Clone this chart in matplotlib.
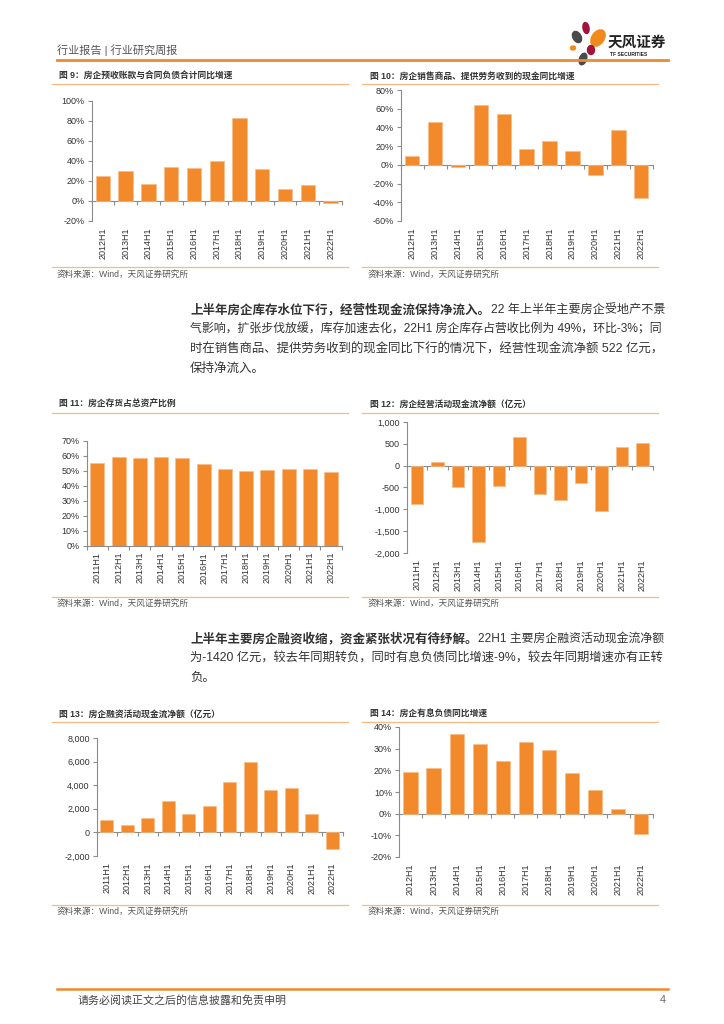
import matplotlib
matplotlib.use("Agg")
import matplotlib.pyplot as plt
from matplotlib.patches import Ellipse
from matplotlib.ticker import FuncFormatter, MultipleLocator

plt.rcParams['font.family'] = ['Liberation Sans', 'Noto Sans CJK SC', 'DejaVu Sans']

# page size in pixels
W, H = 724, 1024

# DATA
periods_11 = ['2012H1', '2013H1', '2014H1', '2015H1', '2016H1', '2017H1',
              '2018H1', '2019H1', '2020H1', '2021H1', '2022H1']
periods_12 = ['2011H1'] + periods_11

adv_growth = [25, 30, 17.5, 34, 33.5, 40, 83.5, 32.5, 12, 16, -1.5]        # 图9 %
cash_growth = [10, 46, -1.8, 63.5, 54.5, 17, 25, 15, -11.3, 37.7, -35.6]   # 图10 %
inv_ratio = [55.5, 59.3, 58.4, 59.1, 58.4, 54.8, 51.3, 49.9, 50.6, 51.0, 51.5, 49.3]  # 图11 %
op_cf = [-885, 92, -496, -1748, -458, 664, -649, -779, -397, -1038, 435, 522]        # 图12 亿元
fin_cf = [1050, 625, 1190, 2630, 1560, 2240, 4280, 5980, 3625, 3800, 1560, -1420]    # 图13 亿元
debt_growth = [19.2, 21.3, 36.9, 32.1, 24.3, 32.9, 29.4, 18.9, 11.1, 2.2, -9.3]      # 图14 %

titles = ['图 9：房企预收账款与合同负债合计同比增速',
          '图 10：房企销售商品、提供劳务收到的现金同比增速',
          '图 11：房企存货占总资产比例',
          '图 12：房企经营活动现金流净额（亿元）',
          '图 13：房企融资活动现金流净额（亿元）',
          '图 14：房企有息负债同比增速']
source = '资料来源：Wind，天风证券研究所'

para1_bold = '上半年房企库存水位下行，经营性现金流保持净流入。'
para1 = ['22 年上半年主要房企受地产不景',
         '气影响，扩张步伐放缓，库存加速去化，22H1 房企库存占营收比例为 49%，环比-3%；同',
         '时在销售商品、提供劳务收到的现金同比下行的情况下，经营性现金流净额 522 亿元，',
         '保持净流入。']
para2_bold = '上半年主要房企融资收缩，资金紧张状况有待纾解。'
para2 = ['22H1 主要房企融资活动现金流净额',
         '为-1420 亿元，较去年同期转负，同时有息负债同比增速-9%，较去年同期增速亦有正转',
         '负。']

# COLOURS
BAR = '#F28A2B'
BAR_EDGE = '#F8BE8A'
AXC = '#8C8C8C'
TXT = '#333333'
LINE_DARK = '#EE8A2F'
LINE_LIGHT = '#F6B983'


def fx(x):
    return x / W


def fy(y):
    return 1 - y / H


fig = plt.figure(figsize=(W / 100, H / 100), dpi=100)
renderer = fig.canvas.get_renderer()


def hline(x0, x1, y, color, lw):
    fig.add_artist(plt.Line2D([fx(x0), fx(x1)], [fy(y), fy(y)], color=color, lw=lw,
                              transform=fig.transFigure))


pct = lambda v, p: f'{v:.0f}%'
thou = lambda v, p: f'{v:,.0f}'


def bar_chart(box, cats, vals, ylim, step, fmt, width=0.63):
    x0, y0, x1, y1 = box
    ax = fig.add_axes([fx(x0), fy(y1), (x1 - x0) / W, (y1 - y0) / H])
    n = len(cats)
    ax.bar(range(n), vals, width, color=BAR, edgecolor=BAR_EDGE, linewidth=0.5, zorder=2)
    ax.set_xlim(-0.5, n - 0.5)
    ax.set_ylim(*ylim)
    ax.yaxis.set_major_locator(MultipleLocator(step))
    ax.yaxis.set_major_formatter(FuncFormatter(fmt))
    for s in ['top', 'right', 'bottom']:
        ax.spines[s].set_visible(False)
    ax.spines['left'].set_color(AXC)
    ax.spines['left'].set_linewidth(0.8)
    ax.tick_params(axis='y', direction='out', length=3, width=0.8, color=AXC,
                   labelsize=6.5, labelcolor=TXT, pad=2)
    ax.set_xticks(range(n))
    ax.set_xticklabels(cats, rotation=90, fontsize=6.5, color=TXT)
    ax.tick_params(axis='x', length=0, pad=4.5)
    # zero line with ticks between categories
    zero = (0 - ylim[0]) / (ylim[1] - ylim[0])
    sec = ax.secondary_xaxis(zero)
    sec.set_alignment('bottom')
    sec.set_xticks([i - 0.5 for i in range(n + 1)])
    sec.set_xticklabels([])
    sec.tick_params(direction='out', length=3, width=0.8, color=AXC)
    sec.spines['bottom'].set_color(AXC)
    sec.spines['bottom'].set_linewidth(0.8)
    return ax


def frame(x_text, x0, x1, y_title, y_under, y_src_line, y_src, title):
    fig.text(fx(x_text), fy(y_title), title, fontsize=6.3, fontweight='bold',
             color=TXT, va='center')
    hline(x0, x1, y_under, LINE_LIGHT, 0.9)
    hline(x0, x1, y_src_line, LINE_LIGHT, 0.9)
    fig.text(fx(x_text - 2), fy(y_src), source, fontsize=6.2, color='#555555', va='center')


# header
fig.text(fx(57), fy(50), '行业报告 | 行业研究周报', fontsize=8, color='#555555', va='center')
hline(57, 668, 60, LINE_DARK, 2)
# logo petals
petals = [((577, 37), 8, 12, 30, '#4A4A4A'), ((586, 28), 6, 11, 10, '#A3123A'),
          ((598, 38), 12, 18, -35, '#F08A1C'), ((573, 48), 5, 4, 0, '#F08A1C'),
          ((591, 50), 7, 9, 0, '#A3123A'), ((583, 59), 7, 12, -20, '#4A4A4A')]
for (cx, cy), w, h, ang, c in petals:
    fig.add_artist(Ellipse((cx / 100, (H - cy) / 100), w / 100, h / 100, angle=ang,
                           color=c, transform=fig.dpi_scale_trans))
fig.text(fx(608), fy(43), '天风证券', fontsize=10.5, fontweight='bold', color='#222222',
         va='center')
fig.text(fx(610), fy(55), 'TF SECURITIES', fontsize=3.6, fontweight='bold', color='#222222',
         va='center')

# row 1
frame(59, 52, 348, 76, 84, 267, 274, titles[0])
frame(370, 362, 658, 76, 84, 267, 274, titles[1])
bar_chart((91.5, 101, 342, 221), periods_11, adv_growth, (-20, 100), 20, pct)
bar_chart((400.7, 90, 652.7, 221), periods_11, cash_growth, (-60, 80), 20, pct)

RIGHT = 665


def fit_line(x_px, y_px, s, last=False, fs=9):
    t = fig.text(fx(x_px), fy(y_px), s, fontsize=fs, color=TXT, va='center')
    if not last:
        w = t.get_window_extent(renderer).width
        k = min(max((RIGHT - x_px) / w, 0.94), 1.06)
        t.set_fontsize(fs * k)
    return t


def paragraph(y_start, bold, lines, dy=19.7):
    t = fig.text(fx(190), fy(y_start), bold, fontsize=9, fontweight='bold', color=TXT,
                 va='center')
    bb = t.get_window_extent(renderer)
    fit_line(bb.x1 + 1, y_start, lines[0])
    for i, ln in enumerate(lines[1:], start=1):
        fit_line(190, y_start + i * dy, ln, last=(i == len(lines) - 1))


paragraph(310, para1_bold, para1)

# row 2
frame(59, 52, 348, 404, 412.7, 596.7, 603, titles[2])
frame(370, 362, 658, 404, 412.7, 596.7, 603, titles[3])
bar_chart((86.7, 441, 341.7, 545.7), periods_12, inv_ratio, (0, 70), 10, pct, width=0.66)
bar_chart((406.7, 422, 652.7, 553), periods_12, op_cf, (-2000, 1000), 500, thou, width=0.62)

paragraph(638.5, para2_bold, para2, dy=20)

# row 3
frame(59, 52, 348, 714, 721.7, 904.7, 911, titles[4])
frame(370, 362, 658, 714, 721.7, 904.7, 911, titles[5])
bar_chart((96.7, 738, 342.7, 856), periods_12, fin_cf, (-2000, 8000), 2000, thou, width=0.63)
bar_chart((399, 727, 652.7, 857), periods_11, debt_growth, (-20, 40), 10, pct, width=0.62)

# footer
hline(57, 668, 989, LINE_DARK, 1.8)
fig.text(fx(78), fy(1000), '请务必阅读正文之后的信息披露和免责申明', fontsize=7.9,
         color='#444444', va='center')
fig.text(fx(660), fy(1000), '4', fontsize=7.8, color='#666666', va='center')

fig.savefig('out.png', dpi=100)
